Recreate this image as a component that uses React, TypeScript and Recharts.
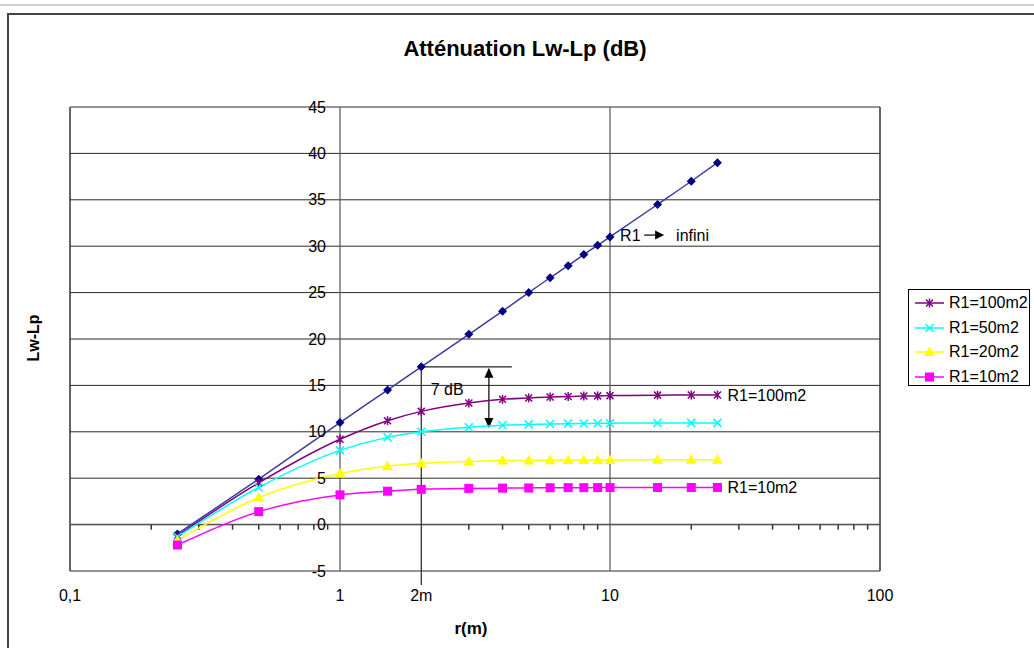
import React from 'react';
import { LineChart, Line, XAxis, YAxis, CartesianGrid, ReferenceLine, ReferenceDot } from 'recharts';

// ---- data ----
const distances = [0.25, 0.5, 1, 1.5, 2, 3, 4, 5, 6, 7, 8, 9, 10, 15, 20, 25];
const infini = [-1.0, 4.9, 11.0, 14.5, 17.0, 20.5, 23.0, 25.0, 26.6, 27.9, 29.1, 30.1, 31.0, 34.5, 37.0, 39.0];
const r100 = [-1.2, 4.5, 9.2, 11.2, 12.2, 13.1, 13.5, 13.65, 13.75, 13.8, 13.85, 13.87, 13.9, 13.95, 13.96, 13.97];
const r50 = [-1.3, 4.0, 8.0, 9.4, 10.0, 10.5, 10.7, 10.8, 10.85, 10.88, 10.9, 10.92, 10.93, 10.95, 10.96, 10.96];
const r20 = [-1.7, 2.9, 5.5, 6.3, 6.6, 6.8, 6.9, 6.92, 6.94, 6.95, 6.96, 6.97, 6.97, 6.98, 6.99, 6.99];
const r10 = [-2.2, 1.4, 3.2, 3.6, 3.8, 3.9, 3.93, 3.95, 3.97, 3.98, 3.98, 3.99, 3.99, 4.0, 4.0, 4.0];

const xTicks = [0.1, 1, 2, 10, 100];
const xTickLabels = ['0,1', '1', '2m', '10', '100'];
const yTicks = [-5, 0, 5, 10, 15, 20, 25, 30, 35, 40, 45];
const minorTicks = [0.2, 0.3, 0.4, 0.5, 0.6, 0.7, 0.8, 0.9, 3, 4, 5, 6, 7, 8, 9, 20, 30, 40, 50, 60, 70, 80, 90];
const legendNames = ['R1=100m2', 'R1=50m2', 'R1=20m2', 'R1=10m2'];

const data = distances.map((r, i) => ({
  r,
  infini: infini[i],
  r100: r100[i],
  r50: r50[i],
  r20: r20[i],
  r10: r10[i],
}));

const FONT = '"Liberation Sans", Arial, sans-serif';

type MarkerType = 'diamond' | 'star' | 'x' | 'triangle' | 'square';

const Marker = ({ type, cx, cy, color }: { type: MarkerType; cx: number; cy: number; color: string }) => {
  if (cx == null || cy == null || isNaN(cx) || isNaN(cy)) return null;
  switch (type) {
    case 'diamond':
      return <path d={`M${cx},${cy - 4.5}L${cx + 4.5},${cy}L${cx},${cy + 4.5}L${cx - 4.5},${cy}Z`} fill={color} />;
    case 'star':
      return (
        <g stroke={color} strokeWidth={1.5}>
          <line x1={cx - 3.5} y1={cy - 3.5} x2={cx + 3.5} y2={cy + 3.5} />
          <line x1={cx - 3.5} y1={cy + 3.5} x2={cx + 3.5} y2={cy - 3.5} />
          <line x1={cx} y1={cy - 4.5} x2={cx} y2={cy + 4.5} />
        </g>
      );
    case 'x':
      return (
        <g stroke={color} strokeWidth={1.5}>
          <line x1={cx - 4} y1={cy - 4} x2={cx + 4} y2={cy + 4} />
          <line x1={cx - 4} y1={cy + 4} x2={cx + 4} y2={cy - 4} />
        </g>
      );
    case 'triangle':
      return <path d={`M${cx},${cy - 5.5}L${cx + 5.5},${cy + 4}L${cx - 5.5},${cy + 4}Z`} fill={color} />;
    case 'square':
      return <rect x={cx - 4.5} y={cy - 4.5} width={9} height={9} fill={color} />;
  }
  return null;
};

const series: { key: string; name: string; color: string; line: string; marker: MarkerType }[] = [
  { key: 'infini', name: 'R1 infini', color: '#000080', line: '#3c3ca0', marker: 'diamond' },
  { key: 'r100', name: legendNames[0], color: '#800080', line: '#800080', marker: 'star' },
  { key: 'r50', name: legendNames[1], color: '#00FFFF', line: '#00FFFF', marker: 'x' },
  { key: 'r20', name: legendNames[2], color: '#FFFF00', line: '#FFFF00', marker: 'triangle' },
  { key: 'r10', name: legendNames[3], color: '#FF00FF', line: '#FF00FF', marker: 'square' },
];

const DoubleArrow = (p: any) => {
  const { x1, y1, y2 } = p;
  const top = Math.min(y1, y2);
  const bot = Math.max(y1, y2);
  return (
    <g>
      <line x1={x1} y1={top + 8} x2={x1} y2={bot - 8} stroke="#000" strokeWidth={1.2} />
      <path d={`M${x1},${top}L${x1 + 4.5},${top + 10}L${x1 - 4.5},${top + 10}Z`} fill="#000" />
      <path d={`M${x1},${bot}L${x1 + 4.5},${bot - 10}L${x1 - 4.5},${bot - 10}Z`} fill="#000" />
    </g>
  );
};

const InfiniLabel = (p: any) => {
  const vb = p.viewBox || {};
  const cx = (vb.x || 0) + (vb.width || 0) / 2;
  const cy = (vb.y || 0) + (vb.height || 0) / 2;
  return (
    <g fontFamily={FONT} fontSize={16} fill="#000">
      <text x={cx} y={cy + 6}>R1</text>
      <line x1={cx + 24} y1={cy} x2={cx + 36} y2={cy} stroke="#000" strokeWidth={1.2} />
      <path d={`M${cx + 35},${cy - 4.5}L${cx + 44},${cy}L${cx + 35},${cy + 4.5}Z`} fill="#000" />
      <text x={cx + 56} y={cy + 6}>infini</text>
    </g>
  );
};

const renderYTick = (p: any) => (
  <text key={`yt-${p.payload?.value}`} x={326} y={p.y} dy={5.5} textAnchor="end" fontFamily={FONT} fontSize={16} fill="#000">
    {p.payload?.value}
  </text>
);

const Legend = () => (
  <div
    style={{
      position: 'absolute',
      left: 908,
      top: 289,
      width: 122,
      height: 97,
      border: '1px solid #000',
      background: '#fff',
      boxSizing: 'border-box',
      fontFamily: FONT,
      fontSize: 16,
      paddingTop: 1,
    }}
  >
    {series.slice(1).map((s) => (
      <div key={s.key} style={{ height: 24.5, display: 'flex', alignItems: 'center' }}>
        <svg width={40} height={24} style={{ display: 'block' }}>
          <line x1={6} y1={12} x2={35} y2={12} stroke={s.line} strokeWidth={1.5} />
          <Marker type={s.marker} cx={20.5} cy={12} color={s.color} />
        </svg>
        <span style={{ color: '#000' }}>{s.name}</span>
      </div>
    ))}
  </div>
);

export default function App() {
  return (
    <div style={{ position: 'absolute', left: 0, top: 0, width: 1034, height: 648, background: '#fff', overflow: 'hidden' }}>
      <svg width={1034} height={648} style={{ position: 'absolute', left: 0, top: 0 }}>
        <line x1={0} y1={5} x2={1034} y2={5} stroke="#d0d0d0" strokeWidth={2} />
        <rect x={8} y={14} width={1100} height={700} fill="#fff" stroke="#444" strokeWidth={2} />
        <text x={525} y={56} textAnchor="middle" fontFamily={FONT} fontWeight="bold" fontSize={22} fill="#000">
          Atténuation Lw-Lp (dB)
        </text>
        <text
          x={39}
          y={338}
          transform="rotate(-90 39 338)"
          textAnchor="middle"
          fontFamily={FONT}
          fontWeight="bold"
          fontSize={16}
          fill="#000"
        >
          Lw-Lp
        </text>
        <text x={471} y={634} textAnchor="middle" fontFamily={FONT} fontWeight="bold" fontSize={17} fill="#000">
          r(m)
        </text>
      </svg>
      <div style={{ position: 'absolute', left: 0, top: 0 }}>
        <LineChart width={1034} height={648} data={data} margin={{ top: 107, right: 154, bottom: 47, left: 60 }}>
          <CartesianGrid horizontal vertical={false} stroke="#2a2a2a" strokeWidth={1} />
          <XAxis
            dataKey="r"
            type="number"
            scale="log"
            domain={[0.1, 100]}
            ticks={xTicks}
            tickFormatter={(v: number) => xTickLabels[xTicks.indexOf(v)] ?? String(v)}
            axisLine={false}
            tickLine={false}
            tickMargin={13}
            height={30}
            allowDataOverflow
            tick={{ fontFamily: FONT, fontSize: 16, fill: '#000' }}
          />
          <YAxis
            type="number"
            domain={[-5, 45]}
            ticks={yTicks}
            axisLine={false}
            tickLine={false}
            width={10}
            tick={renderYTick}
            interval={0}
          />
          <ReferenceLine x={0.1} stroke="#333" strokeWidth={1.5} />
          <ReferenceLine x={100} stroke="#333" strokeWidth={1.5} />
          <ReferenceLine x={1} stroke="#555" strokeWidth={1.2} />
          <ReferenceLine x={10} stroke="#555" strokeWidth={1.2} />
          <ReferenceLine y={0} stroke="#555" strokeWidth={1.5} />
          {minorTicks.map((m) => (
            <ReferenceLine
              key={`mt-${m}`}
              segment={[{ x: m, y: 0 }, { x: m, y: -0.55 }]}
              stroke="#333"
              strokeWidth={1.5}
            />
          ))}
          <ReferenceLine
            segment={[{ x: 2, y: 17 }, { x: 2, y: -6.5 }]}
            stroke="#222"
            strokeWidth={1.2}
            ifOverflow="visible"
          />
          <ReferenceLine segment={[{ x: 2, y: 17 }, { x: 4.33, y: 17 }]} stroke="#222" strokeWidth={1.2} />
          <ReferenceLine
            segment={[{ x: 3.56, y: 16.9 }, { x: 3.56, y: 10.4 }]}
            stroke="#000"
            shape={<DoubleArrow />}
          />
          {series.map((s) => (
            <Line
              key={s.key}
              dataKey={s.key}
              name={s.name}
              type="monotone"
              stroke={s.line}
              strokeWidth={1.5}
              isAnimationActive={false}
              dot={(p: any) => <Marker key={`${s.key}-${p.index}`} type={s.marker} cx={p.cx} cy={p.cy} color={s.color} />}
              activeDot={false}
            />
          ))}
          <ReferenceDot x={10.9} y={31.2} r={1} fill="none" stroke="none" label={<InfiniLabel />} />
          <ReferenceDot
            x={2.15}
            y={14.6}
            r={1}
            fill="none"
            stroke="none"
            label={{ value: '7 dB', position: 'right', offset: 0, fill: '#000', fontSize: 16, fontFamily: FONT }}
          />
          <ReferenceDot
            x={25}
            y={13.97}
            r={1}
            fill="none"
            stroke="none"
            label={{ value: 'R1=100m2', position: 'right', offset: 9, fill: '#000', fontSize: 16, fontFamily: FONT }}
          />
          <ReferenceDot
            x={25}
            y={4.0}
            r={1}
            fill="none"
            stroke="none"
            label={{ value: 'R1=10m2', position: 'right', offset: 9, fill: '#000', fontSize: 16, fontFamily: FONT }}
          />
        </LineChart>
      </div>
      <Legend />
    </div>
  );
}
